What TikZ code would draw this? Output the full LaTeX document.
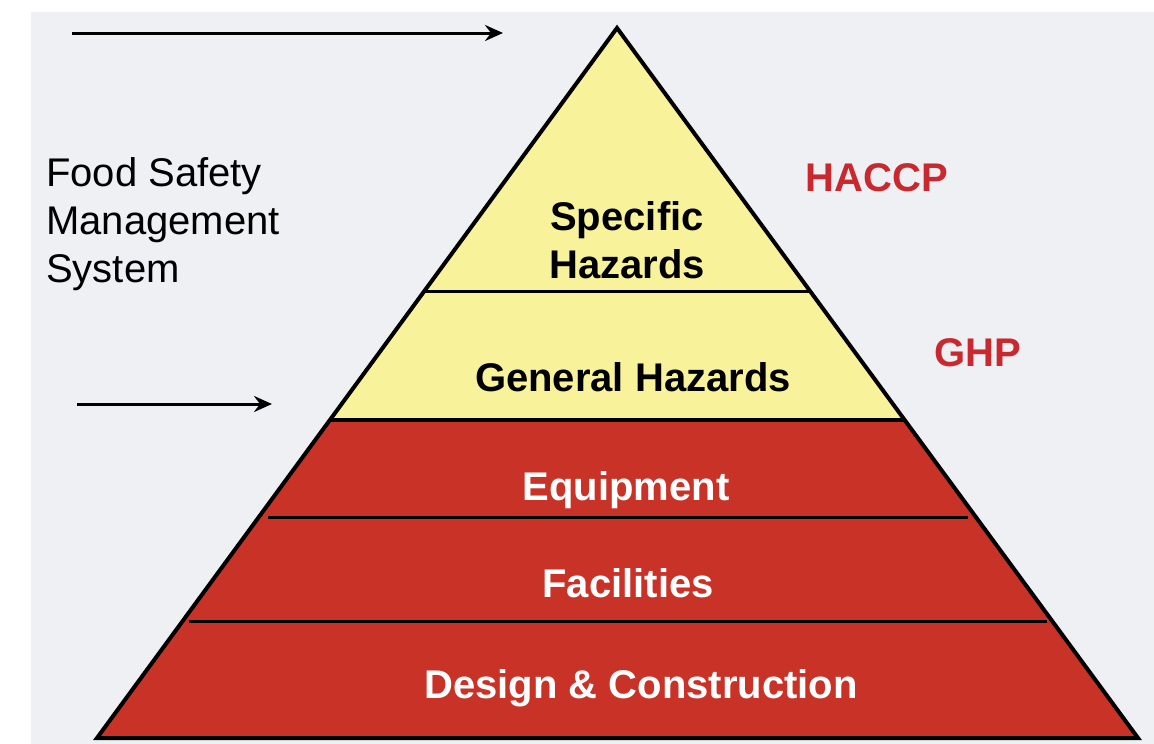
\documentclass[tikz,border=0pt]{standalone}
\usepackage{fontspec}
\setmainfont{Liberation Sans}
\usetikzlibrary{calc,arrows.meta}
\definecolor{bgray}{HTML}{EEF0F3}
\definecolor{pyel}{HTML}{F8F29B}
\definecolor{pred}{HTML}{C93327}
\definecolor{tred}{HTML}{C8282E}
\begin{document}
\begin{tikzpicture}[x=1pt,y=-1pt,
  lbl/.style={font=\fontsize{40}{48}\selectfont\bfseries, inner sep=0pt, anchor=base},
  sidelbl/.style={lbl, text=tred},
  divider/.style={line width=3pt, black},
  pointer/.style={line width=3pt, -{Stealth[length=18pt,width=16pt,inset=6pt]}}]
\useasboundingbox (0,0) rectangle (1154,744);
\fill[white] (0,0) rectangle (1154,744);
\fill[bgray] (31,12) rectangle (1154,744);
\coordinate (apex) at (617,28);
\coordinate (bl) at (97,738);
\coordinate (br) at (1138,738);
\coordinate (gl) at ($(apex)!0.5521!(bl)$);
\coordinate (gr) at ($(apex)!0.5521!(br)$);
\coordinate (s1l) at ($(apex)!0.3718!(bl)$);
\coordinate (s1r) at ($(apex)!0.3718!(br)$);
\coordinate (s3l) at ($(apex)!0.6901!(bl)+(10,0)$);
\coordinate (s3r) at ($(apex)!0.6901!(br)+(-9,0)$);
\coordinate (s4l) at ($(apex)!0.8366!(bl)+(7,0)$);
\coordinate (s4r) at ($(apex)!0.8366!(br)+(-6,0)$);
% layers
\fill[pred] (gl) -- (gr) -- (br) -- (bl) -- cycle;
\fill[pyel] (apex) -- (gr) -- (gl) -- cycle;
\draw[divider] (s1l) -- (s1r);
\draw[line width=4.5pt] (gl) -- (gr);
\draw[divider] (s3l) -- (s3r);
\draw[divider] (s4l) -- (s4r);
\draw[line width=4pt, line join=miter] (apex) -- (br) -- (bl) -- cycle;
% labels inside
\node[lbl, anchor=center, align=center] (spec) at (627,240) {Specific\\Hazards};
\node[lbl] (gen) at (633,391) {General Hazards};
\node[lbl, text=white] (equip) at (626,500) {Equipment};
\node[lbl, text=white] (fac) at (628,597) {Facilities};
\node[lbl, text=white] (design) at (641,698) {Design \& Construction};
% side labels
\node[sidelbl] (haccp) at (877,191) {HACCP};
\node[sidelbl] (ghp) at (978,366) {GHP};
\node[lbl, font=\fontsize{40}{48}\selectfont, anchor=base west] (fsms) at (46,186)
  {\begin{tabular}[t]{@{}l@{}}Food Safety\\Management\\System\end{tabular}};
% arrows
\coordinate (a1s) at (72,33);
\coordinate (a1e) at (503,33);
\coordinate (a2s) at (77,404);
\coordinate (a2e) at (272,404);
\draw[pointer] (a1s) -- (a1e);
\draw[pointer] (a2s) -- (a2e);
\end{tikzpicture}
\end{document}
